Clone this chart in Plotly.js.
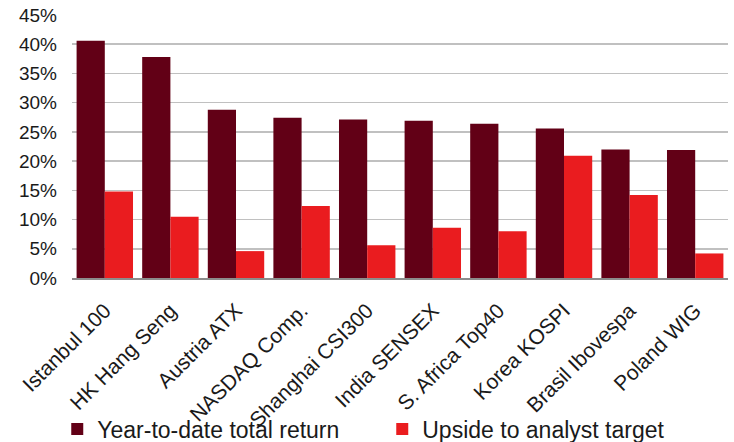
<!DOCTYPE html>
<html>
<head>
<meta charset="utf-8">
<script src="https://cdn.plot.ly/plotly-3.0.1.min.js"></script>
<style>html,body{margin:0;padding:0;background:#fff;}#chart{width:734px;height:442px;}</style>
</head>
<body>
<div id="chart"></div>
<script>
const categories = ["Istanbul 100", "HK Hang Seng", "Austria ATX", "NASDAQ Comp.", "Shanghai CSI300", "India SENSEX", "S. Africa Top40", "Korea KOSPI", "Brasil Ibovespa", "Poland WIG"];
const ytdReturn = [40.6, 37.8, 28.8, 27.4, 27.1, 26.9, 26.4, 25.6, 22.0, 21.9];
const upside = [14.8, 10.5, 4.6, 12.3, 5.6, 8.6, 8.0, 20.9, 14.2, 4.2];
const seriesNames = ["Year-to-date total return", "Upside to analyst target"];
const tickVals = [0, 5, 10, 15, 20, 25, 30, 35, 40, 45];
const tickText = tickVals.map(v => v + "%");

const traces = [
  {type: "bar", name: seriesNames[0], x: categories, y: ytdReturn,
   marker: {color: "#620016", line: {width: 0}}, hoverinfo: "skip"},
  {type: "bar", name: seriesNames[1], x: categories, y: upside,
   marker: {color: "#EA1C1F", line: {width: 0}}, hoverinfo: "skip"}
];

const layout = {
  width: 734, height: 442,
  margin: {l: 72, r: 6, t: 15, b: 164},
  paper_bgcolor: "#ffffff", plot_bgcolor: "#ffffff",
  font: {family: "Liberation Sans, Arial, sans-serif", color: "#1a1a1a"},
  barmode: "group", bargap: 0.14, bargroupgap: 0,
  showlegend: true,
  legend: {orientation: "h", xref: "container", yref: "container",
           x: 0.078, xanchor: "left", y: 0.078, yanchor: "top",
           font: {size: 23, color: "#1a1a1a"}, entrywidth: 280, entrywidthmode: "pixels",
           traceorder: "normal", itemwidth: 30, tracegroupgap: 0, bgcolor: "rgba(0,0,0,0)"},
  xaxis: {tickangle: -45, tickfont: {size: 21, color: "#1a1a1a"}, showgrid: false,
          showline: true, linecolor: "#8c8c8c", linewidth: 2, ticks: "", ticklabelstandoff: 10,
          fixedrange: true, automargin: false},
  yaxis: {range: [0, 45], tickvals: tickVals, ticktext: tickText,
          tickfont: {size: 19, color: "#1a1a1a"}, showgrid: true, gridcolor: "#c0c0c0", gridwidth: 1.5,
          zeroline: false, showline: false, ticks: "", ticklen: 0, ticklabelstandoff: 14, fixedrange: true,
          automargin: false}
};

Plotly.newPlot("chart", traces, layout, {displayModeBar: false, staticPlot: true});
</script>
</body>
</html>
